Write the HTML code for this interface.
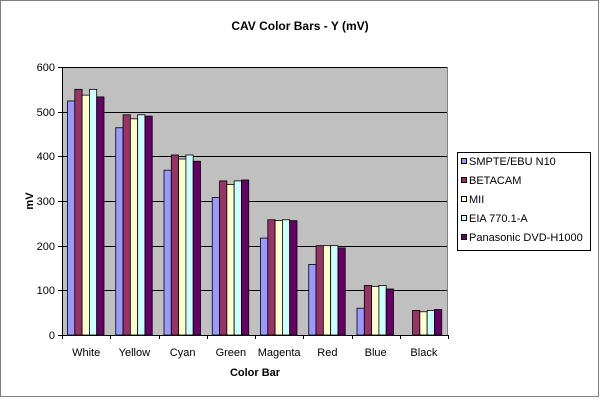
<!DOCTYPE html>
<html><head><style>
body{margin:0;background:#fff;}
svg text{font-family:"Liberation Sans",Arial,sans-serif;}
</style></head><body>
<svg width="600" height="400" xmlns="http://www.w3.org/2000/svg">
<rect x="0.5" y="0.5" width="598" height="396" fill="#fff" stroke="#808080"/>
<text x="300" y="30" font-size="12" font-weight="bold" text-anchor="middle">CAV Color Bars - Y (mV)</text>
<rect x="62" y="67" width="386" height="268" fill="#c0c0c0"/>
<g stroke="#000" stroke-width="1">
<line x1="62" y1="67.5" x2="448" y2="67.5"/>
<line x1="62" y1="112.5" x2="448" y2="112.5"/>
<line x1="62" y1="156.5" x2="448" y2="156.5"/>
<line x1="62" y1="201.5" x2="448" y2="201.5"/>
<line x1="62" y1="246.5" x2="448" y2="246.5"/>
<line x1="62" y1="290.5" x2="448" y2="290.5"/>
</g>
<line x1="447.5" y1="67" x2="447.5" y2="335" stroke="#808080"/>
<g id="bars" stroke="#000" stroke-width="0.8"></g>
<g stroke="#000"><line x1="62.5" y1="67" x2="62.5" y2="335"/><line x1="62" y1="335.5" x2="448" y2="335.5"/></g>
<g font-size="11" text-anchor="end">
<text x="55" y="71">600</text><text x="55" y="116">500</text><text x="55" y="160">400</text>
<text x="55" y="205">300</text><text x="55" y="250">200</text><text x="55" y="294">100</text><text x="55" y="339">0</text>
</g>
<g id="ticks" stroke="#000"></g>
<g font-size="11" text-anchor="middle" id="labels"></g>
<text x="255" y="376" font-size="11" font-weight="bold" text-anchor="middle">Color Bar</text>
<text transform="translate(33,201) rotate(-90)" font-size="11" font-weight="bold" text-anchor="middle">mV</text>
<rect x="457.5" y="152.5" width="133" height="98" fill="#fff" stroke="#000"/>
<g font-size="11">
<rect x="461.5" y="158.5" width="5" height="5" fill="#9999ff" stroke="#000"/><text x="469" y="165">SMPTE/EBU N10</text>
<rect x="461.5" y="177.5" width="5" height="5" fill="#993366" stroke="#000"/><text x="469" y="184">BETACAM</text>
<rect x="461.5" y="196.5" width="5" height="5" fill="#ffffcc" stroke="#000"/><text x="469" y="203">MII</text>
<rect x="461.5" y="215.5" width="5" height="5" fill="#ccffff" stroke="#000"/><text x="469" y="222">EIA 770.1-A</text>
<rect x="461.5" y="234.5" width="5" height="5" fill="#660066" stroke="#000"/><text x="469" y="241">Panasonic DVD-H1000</text>
</g>
</svg>
<script>
var d=[[524,550,537,550,533],[464,493,484,493,490],[369,403,394,403,389],[308,345,337,345,347],[217,258,256,258,256],[158,200,200,200,195],[60,111,109,111,103],[0,55,52,55,57]];
var n=["White","Yellow","Cyan","Green","Magenta","Red","Blue","Black"];
var c=["#9999ff","#993366","#ffffcc","#ccffff","#660066"];
var ns="http://www.w3.org/2000/svg",b=document.getElementById("bars"),t=document.getElementById("ticks"),l=document.getElementById("labels");
var w=48.25,bw=7.3;
for(var i=0;i<8;i++){var x0=62+i*w;
for(var j=0;j<5;j++){var v=d[i][j];if(!v)continue;var h=v*268/600;var r=document.createElementNS(ns,"rect");
r.setAttribute("x",x0+5.5+j*bw);r.setAttribute("y",335-h);r.setAttribute("width",bw);r.setAttribute("height",h);r.setAttribute("fill",c[j]);b.appendChild(r);}
var tx=document.createElementNS(ns,"text");tx.setAttribute("x",x0+w/2);tx.setAttribute("y",356);tx.textContent=n[i];l.appendChild(tx);}
for(var i=0;i<=8;i++){var ln=document.createElementNS(ns,"line");var x=Math.round(62+i*w)+0.5;ln.setAttribute("x1",x);ln.setAttribute("x2",x);ln.setAttribute("y1",335);ln.setAttribute("y2",339);t.appendChild(ln);}
for(var k=0;k<=6;k++){var ln=document.createElementNS(ns,"line");var y=Math.round(335-k*268/6)+0.5;ln.setAttribute("x1",58);ln.setAttribute("x2",62);ln.setAttribute("y1",y);ln.setAttribute("y2",y);t.appendChild(ln);}
</script>
</body></html>
